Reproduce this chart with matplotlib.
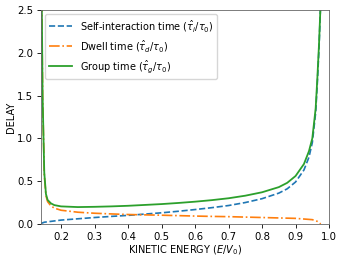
import matplotlib
matplotlib.use("Agg")
import matplotlib.pyplot as plt
import numpy as np

# values
x_self = [0.14, 0.15, 0.2, 0.25, 0.3, 0.35, 0.4, 0.45, 0.5, 0.55, 0.6, 0.65, 0.7,
          0.75, 0.8, 0.85, 0.875, 0.9, 0.925, 0.94, 0.95, 0.96, 0.965, 0.97, 0.975]
y_self = [0.005, 0.02, 0.045, 0.06, 0.075, 0.088, 0.1, 0.115, 0.13, 0.148, 0.168, 0.19, 0.215,
          0.25, 0.295, 0.36, 0.41, 0.49, 0.63, 0.78, 0.95, 1.3, 1.65, 2.05, 2.6]

x_dwell = [0.1425, 0.145, 0.15, 0.155, 0.16, 0.17, 0.18, 0.2, 0.25, 0.3, 0.35, 0.4, 0.45,
           0.5, 0.55, 0.6, 0.65, 0.7, 0.75, 0.8, 0.85, 0.9, 0.95, 0.965, 0.975]
y_dwell = [2.6, 1.5, 0.58, 0.33, 0.26, 0.21, 0.185, 0.16, 0.137, 0.125, 0.117, 0.11, 0.106,
           0.102, 0.097, 0.092, 0.088, 0.085, 0.08, 0.075, 0.07, 0.065, 0.05, 0.03, 0.0]

x_group = [0.1425, 0.145, 0.15, 0.155, 0.16, 0.17, 0.18, 0.2, 0.25, 0.3, 0.35, 0.4, 0.45,
           0.5, 0.55, 0.6, 0.65, 0.7, 0.75, 0.8, 0.85, 0.875, 0.9, 0.925, 0.94, 0.95,
           0.96, 0.965, 0.97, 0.975]
y_group = [2.6, 1.5, 0.6, 0.35, 0.28, 0.24, 0.22, 0.205, 0.197, 0.2, 0.205, 0.212, 0.222,
           0.232, 0.245, 0.26, 0.278, 0.3, 0.33, 0.37, 0.43, 0.48, 0.56, 0.7, 0.85, 1.0,
           1.35, 1.7, 2.1, 2.6]

fig = plt.figure(figsize=(3.41, 2.61), dpi=100)
ax = fig.add_axes([0.12, 0.142, 0.845, 0.82])

ax.plot(x_self, y_self, '--', color='tab:blue', lw=1.2,
        label=r'Self-interaction time ($\hat{\tau}_i/\tau_0$)')
ax.plot(x_dwell, y_dwell, '-.', color='tab:orange', lw=1.2,
        label=r'Dwell time ($\hat{\tau}_d/\tau_0$)')
ax.plot(x_group, y_group, '-', color='tab:green', lw=1.3,
        label=r'Group time ($\hat{\tau}_g/\tau_0$)')

ax.set_xlim(0.14, 1.0)
ax.set_ylim(0, 2.5)
ax.set_xticks([0.2, 0.3, 0.4, 0.5, 0.6, 0.7, 0.8, 0.9, 1.0])
ax.set_yticks([0.0, 0.5, 1.0, 1.5, 2.0, 2.5])
ax.tick_params(labelsize=7.3, length=3, width=0.6, pad=2.5)
for s in ax.spines.values():
    s.set_linewidth(0.6)
    s.set_color('0.4')
ax.set_xlabel(r'KINETIC ENERGY ($E/V_0$)', fontsize=7, labelpad=1)
ax.set_ylabel('DELAY', fontsize=7, labelpad=1)
ax.legend(loc='upper left', fontsize=7, handlelength=2.4, borderaxespad=0.4,
          labelspacing=0.45)

fig.savefig('out.png', dpi=100)
